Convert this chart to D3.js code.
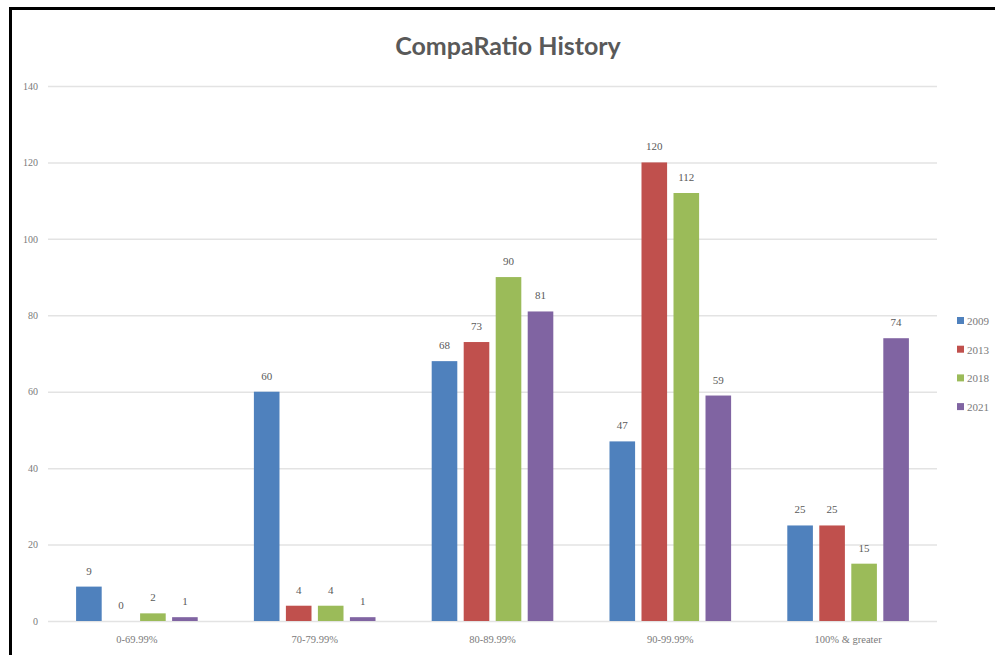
<!DOCTYPE html>
<html>
<head>
<meta charset="utf-8">
<script src="https://cdn.jsdelivr.net/npm/d3@7/dist/d3.min.js"></script>
<style>
  html, body { margin: 0; padding: 0; background: #fff; }
  svg { display: block; }
</style>
</head>
<body>
<svg id="chart" width="995" height="655"></svg>
<script>
// Headcount by compa-ratio band, per survey year
const categories = ["0-69.99%", "70-79.99%", "80-89.99%", "90-99.99%", "100% & greater"];
const years = ["2009", "2013", "2018", "2021"];
const values2009 = [9, 60, 68, 47, 25];
const values2013 = [0, 4, 73, 120, 25];
const values2018 = [2, 4, 90, 112, 15];
const values2021 = [1, 1, 81, 59, 74];
const yTicks = [0, 20, 40, 60, 80, 100, 120, 140];
const colors = ["#4F81BD", "#C0504D", "#9BBB59", "#8064A2"];

const seriesValues = [values2009, values2013, values2018, values2021];
const rows = categories.map((c, i) => ({
  category: c,
  items: years.map((y, j) => ({ year: y, value: seriesValues[j][i] }))
}));

const svg = d3.select("#chart");
const plot = { left: 48, right: 937, top: 86, bottom: 621 };

// Outer frame
svg.append("rect")
  .attr("x", 10.5).attr("y", 8.5)
  .attr("width", 1000).attr("height", 700)
  .attr("fill", "#fff")
  .attr("stroke", "#000").attr("stroke-width", 3);

const x0 = d3.scaleBand()
  .domain(categories)
  .range([plot.left, plot.right])
  .paddingInner(0.28)
  .paddingOuter(0.14);

const x1 = d3.scaleBand()
  .domain(years)
  .range([0, x0.bandwidth()])
  .paddingInner(0.2)
  .paddingOuter(0.1);

const y = d3.scaleLinear()
  .domain([0, 140])
  .range([plot.bottom, plot.top]);

const color = d3.scaleOrdinal().domain(years).range(colors);

// Gridlines and value axis
const yAxis = d3.axisLeft(y)
  .tickValues(yTicks)
  .tickSize(-(plot.right - plot.left))
  .tickPadding(10)
  .tickFormat(d3.format("d"));

const gy = svg.append("g")
  .attr("transform", `translate(${plot.left},0)`)
  .call(yAxis);
gy.select(".domain").remove();
gy.selectAll(".tick line")
  .attr("stroke", "#e3e3e3")
  .attr("stroke-width", 1.5);
gy.selectAll(".tick text")
  .attr("fill", "#7a7a7a")
  .style("font-family", "'Liberation Serif', serif")
  .style("font-size", "10px");

// Category axis labels
const xAxis = d3.axisBottom(x0).tickSize(0).tickPadding(15);
const gx = svg.append("g")
  .attr("transform", `translate(0,${plot.bottom})`)
  .call(xAxis);
gx.select(".domain").remove();
gx.selectAll(".tick text")
  .attr("fill", "#7a7a7a")
  .style("font-family", "'Liberation Serif', serif")
  .style("font-size", "10.5px");

// Bars
const groups = svg.append("g")
  .selectAll("g")
  .data(rows)
  .join("g")
  .attr("transform", d => `translate(${x0(d.category)},0)`);

groups.selectAll("rect")
  .data(d => d.items)
  .join("rect")
  .attr("x", d => x1(d.year))
  .attr("y", d => y(d.value))
  .attr("width", x1.bandwidth())
  .attr("height", d => y(0) - y(d.value))
  .attr("fill", d => color(d.year));

// Value labels
groups.selectAll("text.val")
  .data(d => d.items)
  .join("text")
  .attr("class", "val")
  .attr("x", d => x1(d.year) + x1.bandwidth() / 2)
  .attr("y", d => y(d.value) - 12)
  .attr("text-anchor", "middle")
  .attr("fill", "#5a5a5a")
  .style("font-family", "'Liberation Serif', serif")
  .style("font-size", "11px")
  .text(d => d.value);

// Title
svg.append("text")
  .attr("x", 508)
  .attr("y", 55)
  .attr("text-anchor", "middle")
  .attr("fill", "#595959")
  .style("font-family", "Lato, 'Open Sans', sans-serif")
  .style("font-weight", "bold")
  .style("font-size", "25px")
  .text("CompaRatio History");

// Legend
const legend = svg.append("g")
  .selectAll("g")
  .data(years)
  .join("g")
  .attr("transform", (d, i) => `translate(957,${321 + i * 28.7})`);
legend.append("rect")
  .attr("x", 0).attr("y", -4)
  .attr("width", 7).attr("height", 7)
  .attr("fill", d => color(d));
legend.append("text")
  .attr("x", 10).attr("y", 4)
  .attr("fill", "#7a7a7a")
  .style("font-family", "'Liberation Serif', serif")
  .style("font-size", "11px")
  .text(d => d);
</script>
</body>
</html>
